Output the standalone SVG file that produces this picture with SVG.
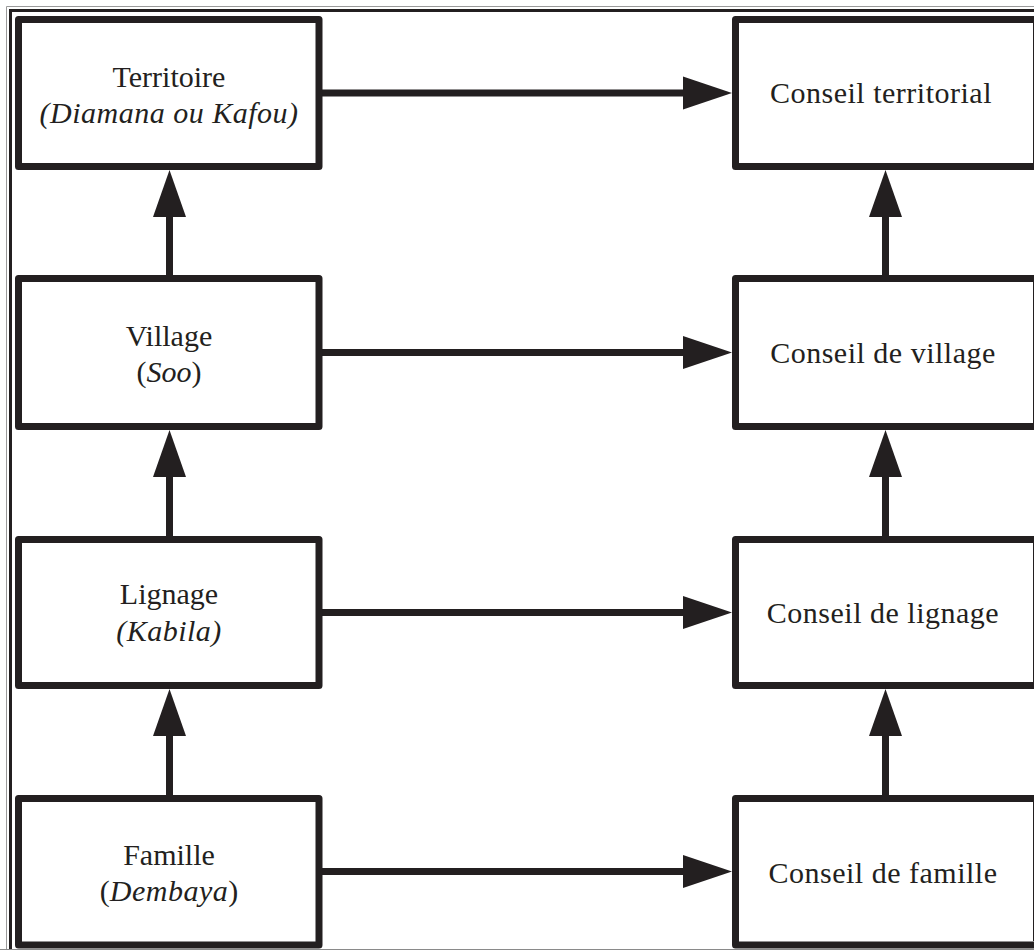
<svg xmlns="http://www.w3.org/2000/svg" width="1034" height="950" viewBox="0 0 1034 950">
<defs>
<style>
.box{fill:#fff;stroke:#231f20;stroke-width:7;stroke-linejoin:round}
.edge{fill:none;stroke:#231f20;stroke-width:7}
.head{fill:#231f20;stroke:none}
text{font-family:"Liberation Serif","Times New Roman",serif;font-size:30px;fill:#231f20;text-anchor:middle}
.it{font-style:italic}
.sp{letter-spacing:0.5px}
</style>
</defs>
<rect x="0" y="0" width="1034" height="950" fill="#fff"/>
<g id="frame">
<path d="M6.5,960 V6.5 H1040" fill="none" stroke="#9a9a9a" stroke-width="1"/>
<path d="M10.5,960 V10.5 H1040" fill="none" stroke="#231f20" stroke-width="3"/>
<line x1="0" y1="949.5" x2="1034" y2="949.5" stroke="#8a8a8a" stroke-width="1"/>
</g>
<g id="connectors">
<line class="edge" x1="322" y1="93" x2="686" y2="93"/>
<polygon class="head" points="683,76.5 732,93 683,109.5"/>
<line class="edge" x1="322" y1="352.5" x2="686" y2="352.5"/>
<polygon class="head" points="683,336 732,352.5 683,369"/>
<line class="edge" x1="322" y1="612.5" x2="686" y2="612.5"/>
<polygon class="head" points="683,596 732,612.5 683,629"/>
<line class="edge" x1="322" y1="871.5" x2="686" y2="871.5"/>
<polygon class="head" points="683,855 732,871.5 683,888"/>
<line class="edge" x1="169.5" y1="276" x2="169.5" y2="214"/>
<polygon class="head" points="153,217 169.5,170 186,217"/>
<line class="edge" x1="169.5" y1="536" x2="169.5" y2="474"/>
<polygon class="head" points="153,477 169.5,430 186,477"/>
<line class="edge" x1="169.5" y1="796" x2="169.5" y2="733"/>
<polygon class="head" points="153,736 169.5,689 186,736"/>
<line class="edge" x1="885.5" y1="276" x2="885.5" y2="214"/>
<polygon class="head" points="869,217 885.5,170 902,217"/>
<line class="edge" x1="885.5" y1="536" x2="885.5" y2="474"/>
<polygon class="head" points="869,477 885.5,430 902,477"/>
<line class="edge" x1="885.5" y1="796" x2="885.5" y2="733"/>
<polygon class="head" points="869,736 885.5,689 902,736"/>
</g>
<g id="territoire">
<rect class="box" x="18.5" y="19.5" width="300.5" height="147"/>
<text x="169" y="87">Territoire</text>
<text x="169" y="123" class="it sp">(Diamana ou Kafou)</text>
</g>
<g id="village">
<rect class="box" x="18.5" y="278.5" width="300.5" height="148"/>
<text x="169" y="346">Village</text>
<text x="169" y="382">(<tspan class="it">Soo</tspan>)</text>
</g>
<g id="lignage">
<rect class="box" x="18.5" y="539.5" width="300.5" height="146"/>
<text x="169" y="604">Lignage</text>
<text x="169" y="641" class="it sp">(Kabila)</text>
</g>
<g id="famille">
<rect class="box" x="18.5" y="798.5" width="300.5" height="146.5"/>
<text x="169" y="865">Famille</text>
<text x="169" y="901">(<tspan class="it sp">Dembaya</tspan>)</text>
</g>
<g id="conseil-territorial">
<rect class="box" x="735.5" y="19.5" width="310" height="147"/>
<line x1="1033.5" y1="23" x2="1033.5" y2="163" stroke="#231f20" stroke-width="1"/>
<text x="881" y="103" class="sp">Conseil territorial</text>
</g>
<g id="conseil-village">
<rect class="box" x="735.5" y="278.5" width="310" height="148"/>
<line x1="1033.5" y1="282" x2="1033.5" y2="423" stroke="#231f20" stroke-width="1"/>
<text x="883" y="363" class="sp">Conseil de village</text>
</g>
<g id="conseil-lignage">
<rect class="box" x="735.5" y="539.5" width="310" height="146"/>
<line x1="1033.5" y1="543" x2="1033.5" y2="682" stroke="#231f20" stroke-width="1"/>
<text x="883" y="623" class="sp">Conseil de lignage</text>
</g>
<g id="conseil-famille">
<rect class="box" x="735.5" y="798.5" width="310" height="146.5"/>
<line x1="1033.5" y1="802" x2="1033.5" y2="941" stroke="#231f20" stroke-width="1"/>
<text x="883" y="883" class="sp">Conseil de famille</text>
</g>
</svg>
